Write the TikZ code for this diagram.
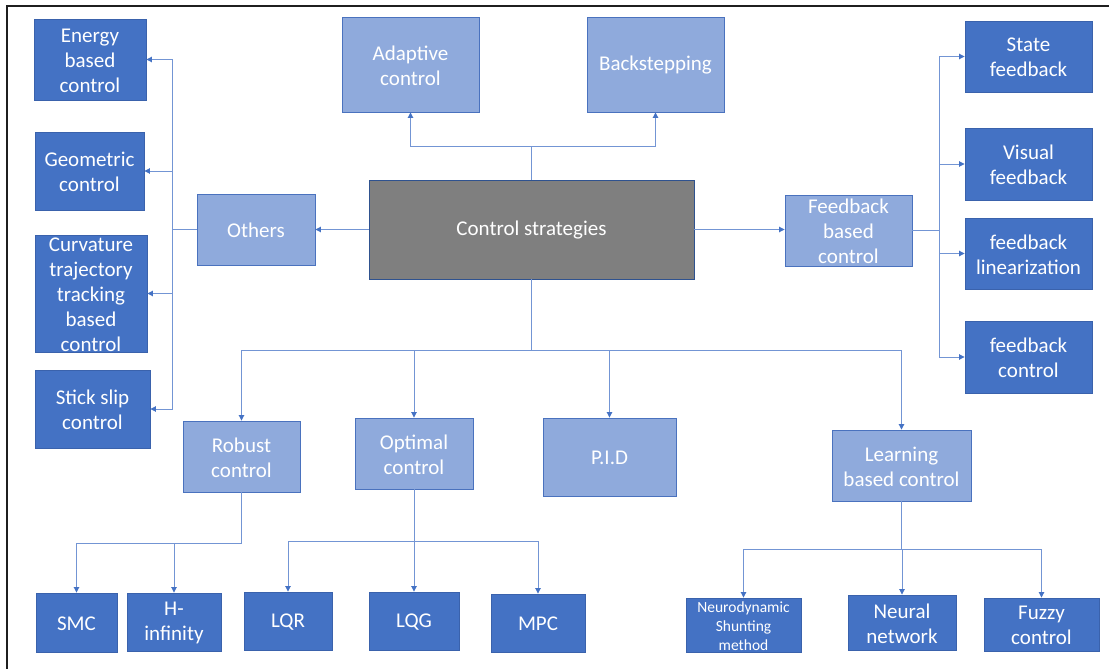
\documentclass[tikz,border=0pt]{standalone}
\usepackage{fontspec}
\setmainfont{Carlito}
\usetikzlibrary{arrows.meta}
\definecolor{darkfill}{HTML}{4472C4}
\definecolor{darkedge}{HTML}{3A62AC}
\definecolor{lightfill}{HTML}{8FAADC}
\definecolor{lightedge}{HTML}{4A72BE}
\definecolor{grayfill}{HTML}{7F7F7F}
\definecolor{grayedge}{HTML}{2F528F}
\definecolor{wire}{HTML}{7395D4}
\definecolor{tip}{HTML}{4472C4}

\tikzset{
  dark/.style={draw=darkedge, fill=darkfill, line width=0.9pt, inner sep=0pt},
  light/.style={draw=lightedge, fill=lightfill, line width=0.9pt, inner sep=0pt},
  grey/.style={draw=grayedge, fill=grayfill, line width=0.9pt, inner sep=0pt},
  lbl/.style={text=white, align=center, inner sep=0pt, font=\fontsize{21}{25}\selectfont},
  smalllbl/.style={text=white, align=center, inner sep=0pt, font=\fontsize{15.5}{19}\selectfont},
  conn/.style={draw=wire, line width=0.9pt, -{Triangle[width=5.5pt,length=5.5pt,color=tip]}},
  trunk/.style={draw=wire, line width=0.9pt},
}

% box: name, style, x1, y1, x2, y2, text style, text
\newcommand{\ctlbox}[8]{%
  \pgfmathsetmacro\bw{#5-#3}%
  \pgfmathsetmacro\bh{#6-#4}%
  \node[#2, minimum width=\bw pt, minimum height=\bh pt] (#1) at ({(#3+#5)/2},{(#4+#6)/2}) {};
  \node[#7] (#1-t) at ([yshift=-1pt]#1.center) {#8};
}

\begin{document}
\begin{tikzpicture}[x=1pt, y=-1pt]
\useasboundingbox (0,0) rectangle (1109,669);

% frame
\draw[line width=1.5pt, color=black!88] (1109,6) -- (7,6) -- (7,669);

% centre
\ctlbox{cs}{grey}{369}{180}{694}{279}{lbl}{Control strategies}

% top row
\ctlbox{adaptive}{light}{342}{17}{479}{112}{lbl}{Adaptive\\control}
\ctlbox{backstep}{light}{587}{17}{724}{112}{lbl}{Backstepping}

% left branch
\ctlbox{others}{light}{197}{194}{315}{265}{lbl}{Others}
\ctlbox{energy}{dark}{34}{19}{146}{100}{lbl}{Energy\\based\\control}
\ctlbox{geom}{dark}{35}{132}{144}{210}{lbl}{Geometric\\control}
\ctlbox{curv}{dark}{35}{235}{147}{352}{lbl}{Curvature\\trajectory\\tracking\\based\\control}
\ctlbox{stick}{dark}{35}{370}{150}{448}{lbl}{Stick slip\\control}

% right branch
\ctlbox{fbc}{light}{785}{195}{912}{266}{lbl}{Feedback\\based\\control}
\ctlbox{state}{dark}{965}{21}{1092}{92}{lbl}{State\\feedback}
\ctlbox{visual}{dark}{965}{128}{1092}{200}{lbl}{Visual\\feedback}
\ctlbox{flin}{dark}{965}{218}{1092}{289}{lbl}{feedback\\linearization}
\ctlbox{fctl}{dark}{965}{321}{1092}{393}{lbl}{feedback\\control}

% lower branch
\ctlbox{robust}{light}{183}{421}{300}{492}{lbl}{Robust\\control}
\ctlbox{optimal}{light}{355}{418}{473}{489}{lbl}{Optimal\\control}
\ctlbox{pid}{light}{543}{418}{676}{496}{lbl}{P.I.D}
\ctlbox{learn}{light}{832}{430}{971}{501}{lbl}{Learning\\based control}

\ctlbox{smc}{dark}{36}{593}{117}{652}{lbl}{SMC}
\ctlbox{hinf}{dark}{127}{593}{221}{651}{lbl}{H-\\infinity}
\ctlbox{lqr}{dark}{244}{592}{332}{650}{lbl}{LQR}
\ctlbox{lqg}{dark}{369}{592}{459}{650}{lbl}{LQG}
\ctlbox{mpc}{dark}{491}{594}{585}{652}{lbl}{MPC}
\ctlbox{neuro}{dark}{686}{598}{801}{652}{smalllbl}{Neurodynamic\\Shunting\\method}
\ctlbox{neural}{dark}{848}{595}{956}{650}{lbl}{Neural\\network}
\ctlbox{fuzzy}{dark}{984}{598}{1099}{651}{lbl}{Fuzzy\\control}

% junction points
\coordinate (jtop) at (531.5,146);
\coordinate (jleft) at (172,229.5);
\coordinate (jright) at (939,230.5);
\coordinate (jdown) at (531.5,350);
\coordinate (jrob) at (241.5,543);
\coordinate (jopt) at (414,541);
\coordinate (jlrn) at (901.5,549);

% upward connectors
\draw[trunk] (cs.north) -- (jtop);
\draw[conn] (jtop) -| (adaptive.south);
\draw[conn] (jtop) -| (backstep.south);

% left connectors
\draw[conn] (cs.west) -- (others.east);
\draw[trunk] (others.west) -- (jleft);
\draw[conn] (jleft) |- (energy.east);
\draw[conn] (jleft) |- (geom.east);
\draw[conn] (jleft) |- (curv.east);
\draw[conn] (jleft) |- (stick.east);

% right connectors
\draw[conn] (cs.east) -- (cs.east -| fbc.west);
\draw[trunk] (fbc.east) -- (jright);
\draw[conn] (jright) |- (state.west);
\draw[conn] (jright) |- (visual.west);
\draw[conn] (jright) |- (flin.west);
\draw[conn] (jright) |- (fctl.west);

% downward connectors
\draw[trunk] (cs.south) -- (jdown);
\draw[conn] (jdown) -| (robust.north);
\draw[conn] (jdown) -| (optimal.north);
\draw[conn] (jdown) -| (pid.north);
\draw[conn] (jdown) -| (learn.north);

\draw[trunk] (robust.south) -- (jrob);
\draw[conn] (jrob) -| (smc.north);
\draw[conn] (jrob) -| (hinf.north);

\draw[trunk] (optimal.south) -- (jopt);
\draw[conn] (jopt) -| (lqr.north);
\draw[conn] (jopt) -| (lqg.north);
\draw[conn] (jopt) -| (mpc.north);

\draw[trunk] (learn.south) -- (jlrn);
\draw[conn] (jlrn) -| (neuro.north);
\draw[conn] (jlrn) -| (neural.north);
\draw[conn] (jlrn) -| (fuzzy.north);
\end{tikzpicture}
\end{document}
